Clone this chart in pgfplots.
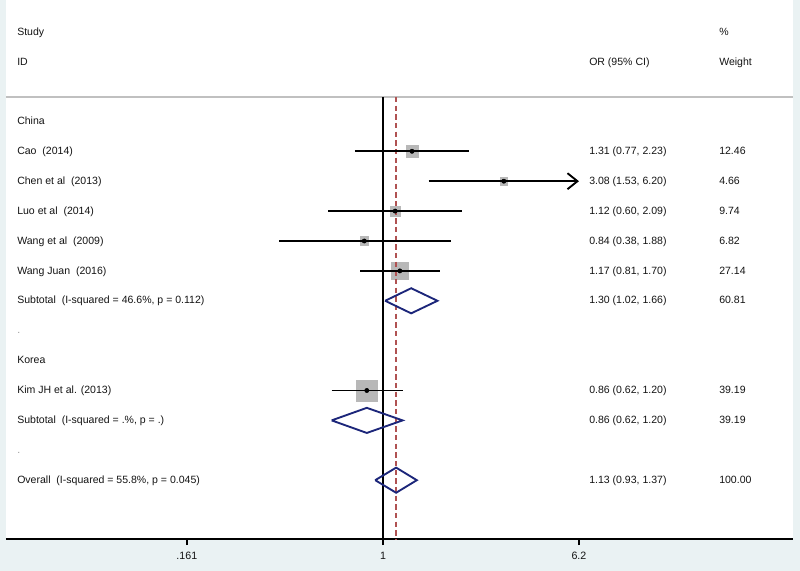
\documentclass[border=0pt]{standalone}
\usepackage{fontspec}
\setmainfont{Liberation Sans}
\usepackage{pgfplots}
\pgfplotsset{compat=1.18}
\usetikzlibrary{arrows.meta}
\definecolor{bgblue}{RGB}{234,242,243}
\definecolor{boxgray}{RGB}{184,184,184}
\definecolor{diamblue}{RGB}{28,38,122}
\definecolor{ovred}{RGB}{176,82,82}
\definecolor{hdrgray}{RGB}{192,192,192}
\definecolor{txt}{RGB}{20,20,20}

\begin{document}
\begin{tikzpicture}
\useasboundingbox (0,0) rectangle (600pt,-428.25pt);
% background, 1 px = 0.75pt
\begin{scope}[x=0.75pt,y=-0.75pt]
  \fill[bgblue] (0,0) rectangle (800,571);
  \fill[white] (6,0) rectangle (793,539);
  \draw[hdrgray, line width=1.5pt] (6,97) -- (793,97);
\end{scope}

\begin{axis}[
    at={(4.5pt,-404.25pt)}, anchor=south west,
    scale only axis, width=590.25pt, height=404.25pt,
    xmode=log, xmin=0.02988, xmax=45.49,
    ymin=-16.967, ymax=1.060,
    axis y line=none, axis x line=bottom,
    x axis line style={-, black, line width=1.1pt},
    xtick={0.161,1,6.2}, xticklabels={.161,1,6.2},
    minor xtick={}, log basis x=10,
    tick align=outside, major tick length=4.5pt,
    tick style={black, line width=1.1pt},
    /pgf/number format/assume math mode=true,
    xticklabel style={font=\fontsize{8}{9}\selectfont, text=txt, yshift=-2pt},
    clip=false, clip marker paths=true,
  ]
  % weight boxes (side ~ sqrt(weight))
  \addplot[only marks, mark=square*, boxgray, mark size=4.43pt] coordinates {(1.31,-4)};
  \addplot[only marks, mark=square*, boxgray, mark size=2.71pt] coordinates {(3.08,-5)};
  \addplot[only marks, mark=square*, boxgray, mark size=3.92pt] coordinates {(1.12,-6)};
  \addplot[only marks, mark=square*, boxgray, mark size=3.28pt] coordinates {(0.84,-7)};
  \addplot[only marks, mark=square*, boxgray, mark size=6.54pt] coordinates {(1.17,-8)};
  \addplot[only marks, mark=square*, boxgray, mark size=7.86pt] coordinates {(0.86,-12)};

  % reference lines
  \addplot[black, line width=1.3pt] coordinates {(1,-2.18) (1,-16.967)};
  \addplot[ovred, line width=1.1pt, dash pattern=on 4pt off 2.5pt] coordinates {(1.13,-2.18) (1.13,-16.967)};

  % confidence intervals
  \addplot[black, line width=1.4pt] coordinates {(0.77,-4) (2.23,-4)};
  \addplot[black, line width=1.4pt, -{Straight Barb[length=7.5pt, width=12pt, line width=1.4pt]}] coordinates {(1.53,-5) (6.20,-5)};
  \addplot[black, line width=1.4pt] coordinates {(0.60,-6) (2.09,-6)};
  \addplot[black, line width=1.4pt] coordinates {(0.38,-7) (1.88,-7)};
  \addplot[black, line width=1.4pt] coordinates {(0.81,-8) (1.70,-8)};
  \addplot[black, line width=1.4pt] coordinates {(0.62,-12) (1.20,-12)};

  % point estimates
  \addplot[only marks, mark=*, black, mark size=1.6pt] coordinates {(1.31,-4) (3.08,-5) (1.12,-6) (0.84,-7) (1.17,-8) (0.86,-12)};

  % pooled diamonds
  \addplot[diamblue, line width=1.4pt] coordinates {(1.02,-9) (1.30,-8.58) (1.66,-9) (1.30,-9.42) (1.02,-9)};
  \addplot[diamblue, line width=1.4pt] coordinates {(0.62,-13) (0.86,-12.58) (1.20,-13) (0.86,-13.42) (0.62,-13)};
  \addplot[diamblue, line width=1.4pt] coordinates {(0.93,-15) (1.13,-14.58) (1.37,-15) (1.13,-15.42) (0.93,-15)};
\end{axis}

% text columns
\begin{scope}[x=0.75pt,y=-0.75pt, every node/.style={anchor=base west, inner sep=0pt, text=txt, font=\fontsize{7.9}{9}\selectfont}]
  \node at (17,35.7) {Study};
  \node at (17,65.6) {ID};
  \node at (589,65.6) {OR (95\% CI)};
  \node at (719,35.7) {\%};
  \node at (719,65.6) {Weight};

  \node at (17,124.5) {China};
  \node at (17,154.4) {Cao\ \ (2014)};
  \node at (17,184.3) {Chen et al\ \ (2013)};
  \node at (17,214.2) {Luo et al\ \ (2014)};
  \node at (17,244.1) {Wang et al\ \ (2009)};
  \node at (17,274.0) {Wang Juan\ \ (2016)};
  \node at (17,303.9) {Subtotal\ \ (I-squared = 46.6\%, p = 0.112)};
  \node[text=black!40] at (17,333.8) {.};
  \node at (17,363.7) {Korea};
  \node at (17,393.6) {Kim JH et al. (2013)};
  \node at (17,423.5) {Subtotal\ \ (I-squared = .\%, p = .)};
  \node[text=black!40] at (17,453.4) {.};
  \node at (17,483.3) {Overall\ \ (I-squared = 55.8\%, p = 0.045)};

  \node at (589,154.4) {1.31 (0.77, 2.23)};
  \node at (589,184.3) {3.08 (1.53, 6.20)};
  \node at (589,214.2) {1.12 (0.60, 2.09)};
  \node at (589,244.1) {0.84 (0.38, 1.88)};
  \node at (589,274.0) {1.17 (0.81, 1.70)};
  \node at (589,303.9) {1.30 (1.02, 1.66)};
  \node at (589,393.6) {0.86 (0.62, 1.20)};
  \node at (589,423.5) {0.86 (0.62, 1.20)};
  \node at (589,483.3) {1.13 (0.93, 1.37)};

  \node at (719,154.4) {12.46};
  \node at (719,184.3) {4.66};
  \node at (719,214.2) {9.74};
  \node at (719,244.1) {6.82};
  \node at (719,274.0) {27.14};
  \node at (719,303.9) {60.81};
  \node at (719,393.6) {39.19};
  \node at (719,423.5) {39.19};
  \node at (719,483.3) {100.00};
\end{scope}
\end{tikzpicture}
\end{document}
